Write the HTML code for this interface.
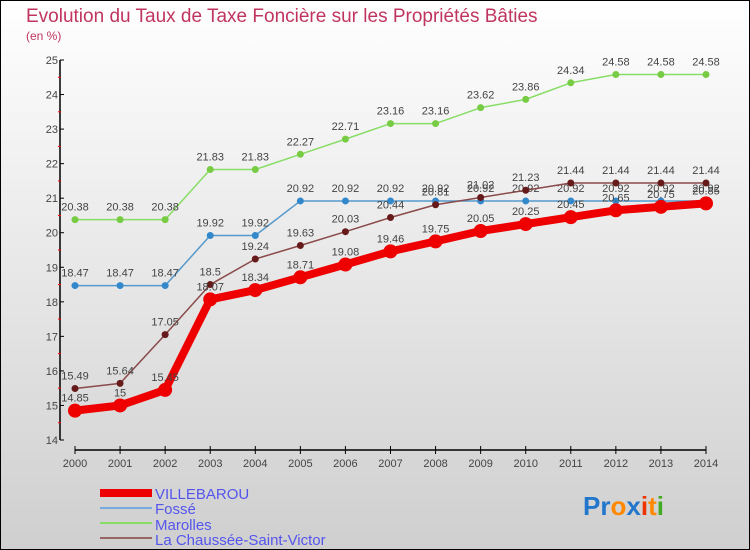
<!DOCTYPE html>
<html><head><meta charset="utf-8"><style>
html,body{margin:0;padding:0}
body{width:750px;height:550px;overflow:hidden}
svg{display:block}
text{font-family:"Liberation Sans",sans-serif}
</style></head><body>
<svg id="c" width="750" height="550" xmlns="http://www.w3.org/2000/svg">
<defs><linearGradient id="bg" x1="0" y1="0" x2="0" y2="1"><stop offset="0" stop-color="#ffffff"/><stop offset="1" stop-color="#cfcfcf"/></linearGradient></defs>
<rect x="0.5" y="0.5" width="749" height="549" fill="url(#bg)" stroke="#000"/>
<text x="26" y="22" font-size="19" fill="#c0355f">Evolution du Taux de Taxe Foncière sur les Propriétés Bâties</text>
<text x="26" y="40" font-size="12" fill="#c0355f">(en %)</text>
<g id="axes"></g><g id="series"></g>
<g>
<rect x="100" y="489" width="52" height="8" fill="#ee0000"/>
<text x="155" y="499" font-size="15" fill="#5555ee">VILLEBAROU</text>
<rect x="100" y="507" width="52" height="2" fill="#77aadd"/>
<text x="155" y="514" font-size="15" fill="#5555ee">Fossé</text>
<rect x="100" y="522" width="52" height="2" fill="#88dd66"/>
<text x="155" y="530" font-size="15" fill="#5555ee">Marolles</text>
<rect x="100" y="537" width="52" height="2" fill="#996666"/>
<text x="155" y="545" font-size="15" fill="#5555ee">La Chaussée-Saint-Victor</text>
</g>
<g font-size="26" font-weight="bold">
<text x="583" y="515"><tspan fill="#2277cc">Pr</tspan><tspan fill="#ff8800">o</tspan><tspan fill="#2277cc">x</tspan><tspan fill="#ee3300">i</tspan><tspan fill="#ff8800">t</tspan><tspan fill="#44aa22">i</tspan></text>
</g>
</svg>
<script>
const years=[2000,2001,2002,2003,2004,2005,2006,2007,2008,2009,2010,2011,2012,2013,2014];
const villebarou=[14.85,15,15.45,18.07,18.34,18.71,19.08,19.46,19.75,20.05,20.25,20.45,20.65,20.75,20.85];
const fosse=[18.47,18.47,18.47,19.92,19.92,20.92,20.92,20.92,20.92,20.92,20.92,20.92,20.92,20.92,20.92];
const marolles=[20.38,20.38,20.38,21.83,21.83,22.27,22.71,23.16,23.16,23.62,23.86,24.34,24.58,24.58,24.58];
const chaussee=[15.49,15.64,17.05,18.5,19.24,19.63,20.03,20.44,20.81,21.02,21.23,21.44,21.44,21.44,21.44];
const yTicks=[14,15,16,17,18,19,20,21,22,23,24,25];
const NS="http://www.w3.org/2000/svg";
const X=i=>75+i*(631/14), Y=v=>440-(v-14)*(380/11);
function mk(t,a,p){const e=document.createElementNS(NS,t);for(const k in a)e.setAttribute(k,a[k]);p.appendChild(e);return e;}
const ax=document.getElementById('axes'), sg=document.getElementById('series');
let l=mk('line',{x1:60,y1:60,x2:60,y2:440,stroke:'#000','stroke-width':1.5},ax);


l=mk('line',{x1:75,y1:450,x2:706,y2:450,stroke:'#000','stroke-width':1.5},ax);


yTicks.forEach(v=>{
 mk('line',{x1:60,y1:Y(v),x2:64,y2:Y(v),stroke:'#000'},ax);
 if(v<25) mk('line',{x1:58,y1:Y(v+0.5),x2:61,y2:Y(v+0.5),stroke:'#f00'},ax);
 const t=mk('text',{x:58,y:Y(v)+4,'font-size':11,fill:'#444','text-anchor':'end'},ax);
 t.textContent=v;
 
 
});
years.forEach((y,i)=>{
 mk('line',{x1:X(i),y1:446,x2:X(i),y2:454,stroke:'#000'},ax);
 const t=mk('text',{x:X(i),y:467,'font-size':11,fill:'#444','text-anchor':'middle'},ax);
 t.textContent=y;
 
 
});
function series(vals,name,col,dot,w,r){
 const g=mk('g',{},sg);
 
 
 mk('polyline',{points:vals.map((v,i)=>X(i)+','+Y(v)).join(' '),fill:'none',stroke:col,'stroke-width':w,'stroke-linejoin':'round'},g);
 vals.forEach((v,i)=>{
  const c=mk('circle',{cx:X(i),cy:Y(v),r:r,fill:dot},g);
  
  
  const t=mk('text',{x:X(i),y:Y(v)-9,'font-size':11,fill:'#444','text-anchor':'middle'},g);
  t.textContent=v;
  
  
 });
}
series(marolles,'marolles','#88dd66','#77cc44',1.5,3.5);
series(fosse,'fosse','#5599cc','#3388cc',1.5,3.5);
series(chaussee,'chaussee','#8a4a4a','#661a1a',1.5,3.5);
series(villebarou,'villebarou','#ee0000','#ee0000',8,7);
</script>
</body></html>
